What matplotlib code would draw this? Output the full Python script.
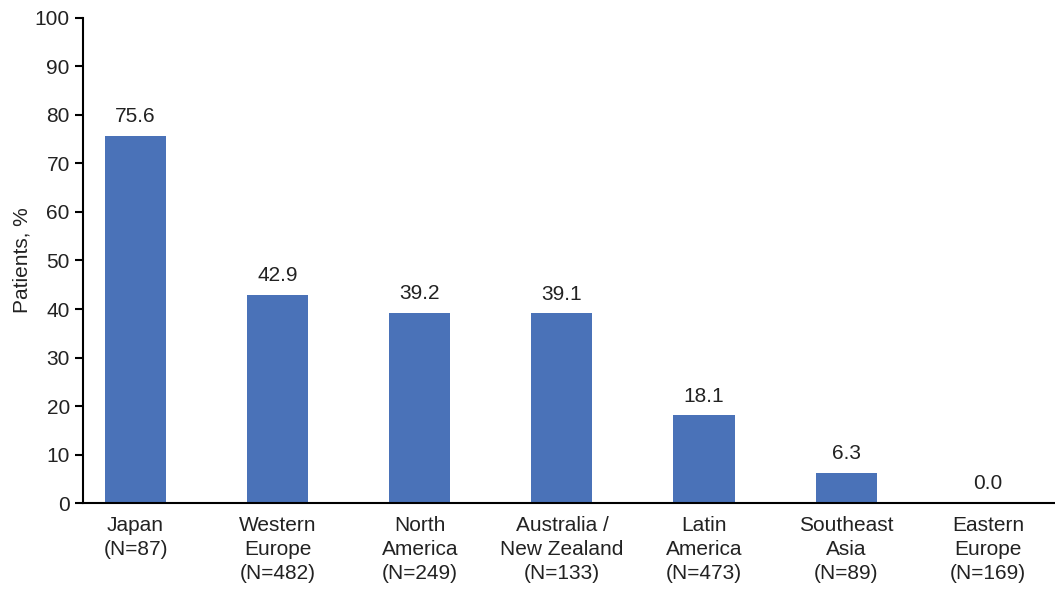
import matplotlib
matplotlib.use("Agg")
import matplotlib.pyplot as plt

regions = ["Japan\n(N=87)", "Western\nEurope\n(N=482)", "North\nAmerica\n(N=249)",
           "Australia /\nNew Zealand\n(N=133)", "Latin\nAmerica\n(N=473)",
           "Southeast\nAsia\n(N=89)", "Eastern\nEurope\n(N=169)"]
patients_pct = [75.6, 42.9, 39.2, 39.1, 18.1, 6.3, 0.0]

plt.rcParams["font.family"] = ["Liberation Sans", "DejaVu Sans"]
text_color = "#222222"
fs = 15

fig = plt.figure(figsize=(10.55, 5.92), dpi=100)
ax = fig.add_axes([0.0787, 0.150, 0.9213, 0.820])

x = list(range(len(regions)))
ax.bar(x, patients_pct, width=0.43, color="#4A72B8")

for xi, v in zip(x, patients_pct):
    ax.text(xi, v + 2.0, f"{v:.1f}", ha="center", va="bottom", fontsize=fs, color=text_color)

ax.set_xlim(-0.37, 6.47)
ax.set_ylim(0, 100)
ax.set_yticks(range(0, 101, 10))
ax.set_xticks(x)
ax.set_xticklabels(regions, fontsize=fs, color=text_color, linespacing=1.33)
ax.tick_params(axis="x", length=0, pad=9)
ax.tick_params(axis="y", labelsize=fs, labelcolor=text_color, length=6, width=1.5, direction="out")
ax.set_ylabel("Patients, %", fontsize=fs, color=text_color, labelpad=2)

for side in ["top", "right"]:
    ax.spines[side].set_visible(False)
ax.spines["left"].set_linewidth(1.5)
ax.spines["bottom"].set_linewidth(1.5)

fig.savefig("out.png", dpi=100)
